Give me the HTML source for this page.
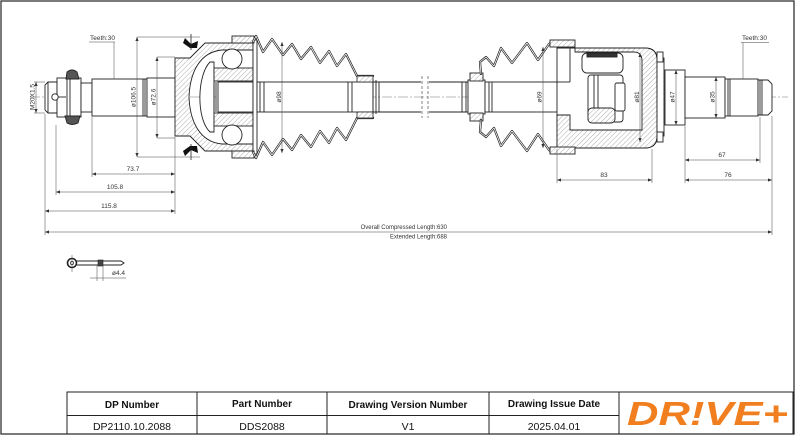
<!DOCTYPE html>
<html><head><meta charset="utf-8"><style>
html,body{margin:0;padding:0;background:#fff;}
svg{display:block;}
text{font-family:"Liberation Sans",Arial,sans-serif;}
</style></head><body>
<svg width="800" height="436" viewBox="0 0 800 436" xmlns="http://www.w3.org/2000/svg">
<defs>
<pattern id="h" width="3.5" height="3.5" patternUnits="userSpaceOnUse" patternTransform="rotate(45)">
<rect width="3.5" height="3.5" fill="#fff"/>
<line x1="0" y1="0" x2="0" y2="3.5" stroke="#666" stroke-width="0.55"/>
</pattern>
<marker id="ar" viewBox="0 0 10 10" refX="10" refY="5" markerWidth="5" markerHeight="4" markerUnits="userSpaceOnUse" orient="auto-start-reverse">
<path d="M0,1 L10,5 L0,9 Z" fill="#333"/>
</marker>
</defs>
<rect x="0" y="0" width="800" height="436" fill="#fff"/>
<rect x="1" y="1" width="793" height="433" fill="none" stroke="#222" stroke-width="1.2"/>

<line x1="30" y1="97" x2="788" y2="97" stroke="#777" stroke-width="0.5" stroke-dasharray="10 2 2 2"/>

<g stroke="#222" stroke-width="0.9" fill="#fff">
<path d="M48,82 L57,82 L57,113 L48,113 L45,110 L45,85 Z"/>
<line x1="48" y1="82" x2="48" y2="113"/>
<rect x="57" y="78" width="24" height="39"/>
<line x1="67" y1="78" x2="67" y2="117"/>
<line x1="70" y1="78" x2="70" y2="117"/>
<path d="M66,79 L67,72 Q72,68 77,72 L79,79 Z" fill="#555"/>
<path d="M65,116 L67,123 Q72,126 78,123 L80,116 Z" fill="#555"/>
<circle cx="55" cy="97" r="3.2"/>
<line x1="58" y1="97" x2="66" y2="97"/>
<rect x="81" y="83" width="11" height="29"/>
<rect x="92" y="79" width="55" height="37"/>
<line x1="143" y1="79" x2="143" y2="116"/>
<line x1="145" y1="79" x2="145" y2="116"/>
<rect x="147" y="78" width="28" height="39"/>

<path fill="url(#h)" fill-rule="evenodd" d="M175,58 L190,58 L205,43 L253,43 L253,151 L205,151 L190,136 L175,136 Z M253,50 L222,50 C200,52 190,72 189,97 C190,122 200,142 222,144 L253,144 Z"/>
<path d="M210,62 C197,75 196,119 210,132 L214,132 L214,62 Z"/>
<rect x="214" y="68" width="39" height="13" fill="url(#h)"/>
<rect x="214" y="113" width="39" height="13" fill="url(#h)"/>
<circle cx="232" cy="59" r="10"/>
<circle cx="232" cy="135" r="10"/>
<rect x="218" y="82" width="35" height="30"/>
<line x1="214" y1="82" x2="214" y2="112"/>
<line x1="216" y1="82" x2="216" y2="112"/>
<rect x="253" y="40" width="4" height="114"/>
<rect x="232" y="36" width="22" height="7" fill="url(#h)"/>
<rect x="232" y="151" width="22" height="7" fill="url(#h)"/>
</g>
<path d="M185,38 L191,44 L198,41 L197,48 L190,48 L183,43 Z" fill="#111"/>
<path d="M185,156 L191,150 L198,153 L197,146 L190,146 L183,151 Z" fill="#111"/>
<line x1="191" y1="34" x2="191" y2="50" stroke="#222" stroke-width="0.8"/>
<line x1="191" y1="144" x2="191" y2="160" stroke="#222" stroke-width="0.8"/>

<g stroke="#222" stroke-width="0.9" fill="#fff">
<rect x="257" y="82" width="116" height="30"/>
<line x1="260" y1="82" x2="260" y2="112"/>
<line x1="264" y1="82" x2="264" y2="112"/>
<line x1="348" y1="82" x2="348" y2="112"/>
<line x1="352" y1="82" x2="352" y2="112"/>
</g>
<g fill="none" stroke-linejoin="round" stroke-linecap="round">
<path d="M253,42 L256,36 L263,52 L272,39 L283,55 L292,44 L301,59 L311,47 L320,63 L329,51 L337,66 L346,54 L357,76 L373,76" stroke="#222" stroke-width="2.2"/>
<path d="M253,42 L256,36 L263,52 L272,39 L283,55 L292,44 L301,59 L311,47 L320,63 L329,51 L337,66 L346,54 L357,76 L373,76" stroke="#fff" stroke-width="0.8"/>
<path d="M253,152 L256,158 L263,142 L272,155 L283,139 L292,150 L301,135 L311,147 L320,131 L329,143 L337,128 L346,140 L357,118 L373,118" stroke="#222" stroke-width="2.2"/>
<path d="M253,152 L256,158 L263,142 L272,155 L283,139 L292,150 L301,135 L311,147 L320,131 L329,143 L337,128 L346,140 L357,118 L373,118" stroke="#fff" stroke-width="0.8"/>
</g>
<g stroke="#222" stroke-width="0.8">
<rect x="357" y="76" width="16" height="6" fill="url(#h)"/>
<rect x="357" y="112" width="16" height="6" fill="url(#h)"/>
</g>

<g stroke="#222" stroke-width="0.9" fill="none">
<line x1="373" y1="82" x2="421" y2="82"/>
<line x1="373" y1="112" x2="421" y2="112"/>
<line x1="429" y1="82" x2="470" y2="82"/>
<line x1="429" y1="112" x2="470" y2="112"/>
<line x1="373" y1="80" x2="373" y2="114"/>
<line x1="376" y1="80" x2="376" y2="114"/>
<line x1="379" y1="82" x2="379" y2="112"/>
<line x1="462" y1="82" x2="462" y2="112"/>
<line x1="466" y1="82" x2="466" y2="112"/>
</g>
<line x1="422" y1="76" x2="422" y2="118" stroke="#333" stroke-width="0.6" stroke-dasharray="3 2"/>
<line x1="428" y1="76" x2="428" y2="118" stroke="#333" stroke-width="0.6" stroke-dasharray="3 2"/>

<g stroke="#222" stroke-width="0.9" fill="#fff">
<rect x="468" y="80" width="17" height="34"/>
<rect x="485" y="82" width="105" height="30"/>
<line x1="489" y1="82" x2="489" y2="112"/>
<line x1="492" y1="82" x2="492" y2="112"/>
<rect x="470" y="73" width="13" height="8" fill="url(#h)"/>
<rect x="470" y="113" width="13" height="8" fill="url(#h)"/>
</g>
<g fill="none" stroke-linejoin="round" stroke-linecap="round">
<path d="M481,74 L480,62 L486,57 L494,66 L501,48 L512,63 L527,43 L538,60 L549,44 L553,41" stroke="#222" stroke-width="2.2"/>
<path d="M481,74 L480,62 L486,57 L494,66 L501,48 L512,63 L527,43 L538,60 L549,44 L553,41" stroke="#fff" stroke-width="0.8"/>
<path d="M481,120 L480,132 L486,137 L494,128 L501,146 L512,131 L527,151 L538,134 L549,150 L553,153" stroke="#222" stroke-width="2.2"/>
<path d="M481,120 L480,132 L486,137 L494,128 L501,146 L512,131 L527,151 L538,134 L549,150 L553,153" stroke="#fff" stroke-width="0.8"/>
</g>

<g stroke="#222" stroke-width="0.9" fill="#fff">
<path d="M557,48 L645,48 Q657,48 657,60 L657,136 Q657,148 645,148 L557,148 Z"/>
<path fill="url(#h)" d="M557,115 L570,115 L570,130 L642,130 L642,61 Q642,52 634,52 L575,52 L575,48 L645,48 Q657,48 657,60 L657,136 Q657,148 645,148 L557,148 Z"/>
<line x1="570" y1="48" x2="570" y2="82"/>
<line x1="557" y1="82" x2="570" y2="82"/>
<rect x="550" y="40" width="25" height="7" fill="url(#h)"/>
<rect x="550" y="147" width="25" height="7" fill="url(#h)"/>
<rect x="582" y="53" width="41" height="20" rx="5"/>
<rect x="587" y="53" width="30" height="4" fill="#333"/>
<rect x="588" y="75" width="35" height="47" rx="3"/>
<rect x="588" y="108" width="27" height="15" rx="4" fill="url(#h)"/>
<line x1="594" y1="75" x2="594" y2="108"/>
<line x1="598" y1="75" x2="598" y2="108"/>
<rect x="615" y="83" width="10" height="28" rx="2"/>
<rect x="657" y="58" width="7" height="78"/>
<rect x="657" y="52" width="6" height="10"/>
<rect x="657" y="132" width="6" height="10"/>
<rect x="665" y="70" width="20" height="55"/>
<rect x="685" y="77" width="40" height="41"/>
<rect x="725" y="79" width="33" height="37"/>
<line x1="728" y1="79" x2="728" y2="116"/>
<line x1="730" y1="79" x2="730" y2="116"/>
<path d="M758,80 L768,80 L772,84 L772,111 L768,115 L758,115 Z"/>
<line x1="760" y1="80" x2="760" y2="115"/>
<line x1="762" y1="80" x2="762" y2="115"/>
</g>

<g stroke="#444" stroke-width="0.5" fill="none">
<line x1="36" y1="82" x2="36" y2="113" marker-start="url(#ar)" marker-end="url(#ar)"/>
<line x1="34" y1="82" x2="45" y2="82"/>
<line x1="34" y1="113" x2="45" y2="113"/>
<line x1="137" y1="37" x2="137" y2="157" marker-start="url(#ar)" marker-end="url(#ar)"/>
<line x1="137" y1="37" x2="200" y2="37"/>
<line x1="137" y1="157" x2="200" y2="157"/>
<line x1="157" y1="57" x2="157" y2="138" marker-start="url(#ar)" marker-end="url(#ar)"/>
<line x1="157" y1="57" x2="175" y2="57"/>
<line x1="157" y1="138" x2="175" y2="138"/>
<line x1="92" y1="117" x2="92" y2="177"/>
<line x1="56" y1="125" x2="56" y2="195"/>
<line x1="45" y1="114" x2="45" y2="235"/>
<line x1="175" y1="137" x2="175" y2="214"/>
<line x1="92" y1="174" x2="175" y2="174" marker-start="url(#ar)" marker-end="url(#ar)"/>
<line x1="56" y1="192" x2="175" y2="192" marker-start="url(#ar)" marker-end="url(#ar)"/>
<line x1="45" y1="211" x2="175" y2="211" marker-start="url(#ar)" marker-end="url(#ar)"/>
<line x1="772" y1="116" x2="772" y2="235"/>
<line x1="45" y1="232" x2="772" y2="232" marker-start="url(#ar)" marker-end="url(#ar)"/>
<line x1="282" y1="42" x2="282" y2="153" marker-start="url(#ar)" marker-end="url(#ar)"/>
<line x1="543" y1="47" x2="543" y2="148" marker-start="url(#ar)" marker-end="url(#ar)"/>
<line x1="640" y1="53" x2="640" y2="142" marker-start="url(#ar)" marker-end="url(#ar)"/>
<line x1="676" y1="70" x2="676" y2="125" marker-start="url(#ar)" marker-end="url(#ar)"/>
<line x1="716" y1="77" x2="716" y2="118" marker-start="url(#ar)" marker-end="url(#ar)"/>
<line x1="557" y1="149" x2="557" y2="183"/>
<line x1="652" y1="149" x2="652" y2="183"/>
<line x1="557" y1="180" x2="652" y2="180" marker-start="url(#ar)" marker-end="url(#ar)"/>
<line x1="685" y1="126" x2="685" y2="183"/>
<line x1="760" y1="117" x2="760" y2="163"/>
<line x1="685" y1="160" x2="760" y2="160" marker-start="url(#ar)" marker-end="url(#ar)"/>
<line x1="685" y1="180" x2="772" y2="180" marker-start="url(#ar)" marker-end="url(#ar)"/>
<line x1="89" y1="42" x2="115" y2="42"/>
<line x1="114" y1="42" x2="114" y2="79"/>
<line x1="741" y1="42.5" x2="769" y2="42.5"/>
<line x1="743" y1="42.5" x2="743" y2="79"/>
</g>

<g fill="#333" font-size="6.5">
<text x="90" y="40">Teeth:30</text>
<text x="742" y="40">Teeth:30</text>
<text x="133" y="171" text-anchor="middle">73.7</text>
<text x="115" y="189" text-anchor="middle">105.8</text>
<text x="109" y="208" text-anchor="middle">115.8</text>
<text x="604" y="177" text-anchor="middle">83</text>
<text x="722" y="157" text-anchor="middle">67</text>
<text x="728" y="177" text-anchor="middle">76</text>
<text x="447" y="229" text-anchor="end" font-size="6">Overall  Compressed  Length:630</text>
<text x="447" y="238.5" text-anchor="end" font-size="6">Extended  Length:688</text>
<text transform="translate(34.5,97) rotate(-90)" text-anchor="middle">M20X1.5</text>
<text transform="translate(135.5,97) rotate(-90)" text-anchor="middle">ø106.5</text>
<text transform="translate(155.5,97) rotate(-90)" text-anchor="middle">ø72.6</text>
<text transform="translate(281,97) rotate(-90)" text-anchor="middle">ø98</text>
<text transform="translate(541.5,97) rotate(-90)" text-anchor="middle">ø69</text>
<text transform="translate(639,97) rotate(-90)" text-anchor="middle">ø81</text>
<text transform="translate(674.5,97) rotate(-90)" text-anchor="middle">ø47</text>
<text transform="translate(714.5,97) rotate(-90)" text-anchor="middle">ø35</text>
<text x="112" y="275">ø4.4</text>
</g>

<g stroke="#222" fill="#fff">
<path d="M76,261 L121,261 L124,263 L121,265 L76,265 Z" stroke-width="0.9"/>
<circle cx="72" cy="263" r="4.5" stroke-width="1.6"/>
<circle cx="72" cy="263" r="1.6" stroke-width="0.7"/>
<rect x="98" y="260" width="5" height="6" fill="#444" stroke-width="0.6"/>
</g>
<g stroke="#444" stroke-width="0.5">
<line x1="72" y1="255" x2="72" y2="272"/>
<line x1="97" y1="265" x2="97" y2="281"/>
<line x1="103" y1="265" x2="103" y2="281"/>
<line x1="90" y1="278" x2="126" y2="278"/>
</g>

<g stroke="#222" stroke-width="1" fill="none">
<rect x="67" y="392" width="726" height="42"/>
<line x1="67" y1="415.5" x2="619" y2="415.5"/>
<line x1="197" y1="392" x2="197" y2="434"/>
<line x1="327" y1="392" x2="327" y2="434"/>
<line x1="489" y1="392" x2="489" y2="434"/>
<line x1="619" y1="392" x2="619" y2="434"/>
</g>
<g fill="#111" text-anchor="middle">
<text x="132" y="408" font-size="10" font-weight="bold">DP Number</text>
<text x="262" y="407" font-size="10" font-weight="bold">Part Number</text>
<text x="408" y="408" font-size="10" font-weight="bold">Drawing Version Number</text>
<text x="554" y="407" font-size="10" font-weight="bold">Drawing Issue Date</text>
<text x="132" y="430" font-size="10.5">DP2110.10.2088</text>
<text x="262" y="430" font-size="10.5">DDS2088</text>
<text x="408" y="430" font-size="10.5">V1</text>
<text x="554" y="430" font-size="10.5">2025.04.01</text>
</g>
<text x="627" y="425" font-size="33" font-weight="bold" font-style="italic" fill="#f27f1f" textLength="161" lengthAdjust="spacingAndGlyphs">DR!VE+</text>
</svg>
</body></html>
